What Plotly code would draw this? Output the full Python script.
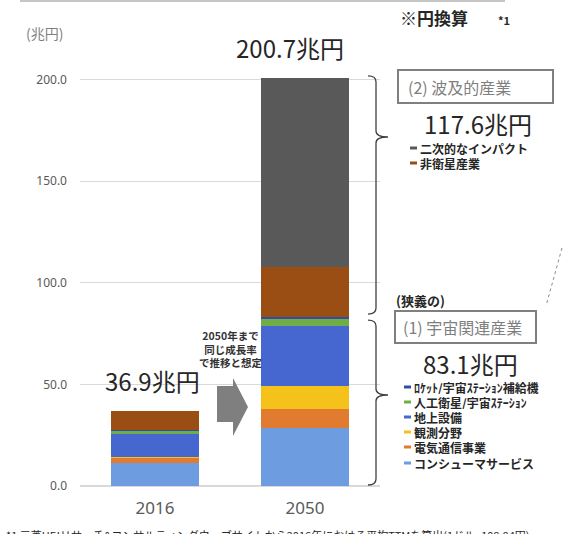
import plotly.graph_objects as go

# ---------------- data ----------------
years = ["2016", "2050"]
series_names = [
    "コンシューマサービス",
    "電気通信事業",
    "観測分野",
    "地上設備",
    "人工衛星/宇宙ｽﾃｰｼｮﾝ",
    "ﾛｹｯﾄ/宇宙ｽﾃｰｼｮﾝ補給機",
    "非衛星産業",
    "二次的なインパクト",
]
consumer = [11.4, 28.4]
telecom = [2.7, 9.3]
observation = [0.1, 11.4]
ground = [11.6, 29.5]
satellites = [1.4, 3.3]
rocket = [0.3, 1.2]
non_satellite = [9.4, 24.5]
secondary = [0.0, 93.1]
totals = [36.9, 200.7]
narrow_total = 83.1
wide_total = 117.6
y_ticks = [0, 50, 100, 150, 200]
y_tick_labels = ["0.0", "50.0", "100.0", "150.0", "200.0"]

colors = ["#6d9de0", "#e07b30", "#f5c21b", "#4767d0", "#70ad47", "#2f4ea8", "#9a4e13", "#595959"]
values = [consumer, telecom, observation, ground, satellites, rocket, non_satellite, secondary]

# ---------------- layout geometry ----------------
W, H = 563, 534
ML, MR, MT, MB = 80, 183, 59, 48
PW, PH = W - ML - MR, H - MT - MB
YMAX = 210


def px(x):
    return (x - ML) / PW


def py(y):
    return (H - MB - y) / PH


def vy(v):
    return v / YMAX


fig = go.Figure()
for name, vals, col in zip(series_names, values, colors):
    fig.add_trace(go.Bar(x=years, y=vals, name=name, marker=dict(color=col, line=dict(width=0)),
                         width=0.59, showlegend=False))

JP = "Noto Sans CJK JP"
NUM = "Liberation Sans Narrow, Arial Narrow, Noto Sans CJK JP"
shapes = []
ann = []


def text(x, y, s, size, color="#262626", family=JP, xanchor="left", yanchor="middle", align="left", height=None):
    d = dict(x=x, y=y, xref="paper", yref="paper", xanchor=xanchor, yanchor=yanchor,
             showarrow=False, text=s, align=align, font=dict(family=family, size=size, color=color))
    if height:
        d["height"] = height
    ann.append(d)


# total labels (category index positions on the x axis)
for i, (tot, xs) in enumerate(zip(totals, [-3, -15])):
    ann.append(dict(x=i, y=tot, xref="x", yref="y", xanchor="center", yanchor="bottom", yshift=11, xshift=xs,
                    text=f"{tot}兆円", showarrow=False, font=dict(family=NUM, size=24, color="#262626")))


# braces
def brace(y_top, y_bot, y_tip):
    xl, xv, xt, r = px(368), px(376), px(388), 6 / PH
    return (f"M {xl},{y_top} Q {xv},{y_top} {xv},{y_top - r} L {xv},{y_tip + r} "
            f"Q {xv},{y_tip} {xt},{y_tip} Q {xv},{y_tip} {xv},{y_tip - r} "
            f"L {xv},{y_bot + r} Q {xv},{y_bot} {xl},{y_bot}")


shapes.append(dict(type="path", xref="paper", yref="paper",
                   path=brace(vy(totals[1]) + 2 / PH, vy(narrow_total) + 3 / PH, py(137)),
                   line=dict(color="#404040", width=1.3)))
shapes.append(dict(type="path", xref="paper", yref="paper",
                   path=brace(vy(narrow_total) - 3 / PH, vy(0) + 1 / PH, py(395)),
                   line=dict(color="#404040", width=1.3)))

# arrow
pts = [(217, 386), (233, 386), (233, 378), (248, 407), (233, 436), (233, 422), (217, 422)]
path = "M " + " L ".join(f"{px(a)},{py(b)}" for a, b in pts) + " Z"
shapes.append(dict(type="path", xref="paper", yref="paper", path=path, fillcolor="#7f7f7f", line=dict(width=0)))
text(px(231), py(349), "<b>2050年まで<br>同じ成長率<br>で推移と想定</b>", 10.5, "#333333", xanchor="center", align="center")

# boxes
shapes.append(dict(type="rect", xref="paper", yref="paper", x0=px(398), x1=px(553), y0=py(70), y1=py(103),
                   line=dict(color="#7f7f7f", width=2)))
text(px(406), py(87), "(2) 波及的産業", 16, "#7f7f7f")
text(px(478), py(123), f"{wide_total}兆円", 24, family=NUM, xanchor="center")

text(px(394), py(300), "<b>(狭義の)</b>", 13)
shapes.append(dict(type="rect", xref="paper", yref="paper", x0=px(395), x1=px(536), y0=py(311), y1=py(343),
                   line=dict(color="#7f7f7f", width=2)))
text(px(401), py(327), "(1) 宇宙関連産業", 16, "#7f7f7f")
text(px(471), py(363), f"{narrow_total}兆円", 24, family=NUM, xanchor="center")


# legends
def legend_item(idx, xm, yc):
    shapes.append(dict(type="rect", xref="paper", yref="paper", x0=px(xm), x1=px(xm + 7),
                       y0=py(yc + 1.5), y1=py(yc - 1.5), fillcolor=colors[idx], line=dict(width=0)))
    text(px(xm + 8), py(yc), f"<b>{series_names[idx]}</b>", 12, height=14)


legend_item(7, 410, 148)
legend_item(6, 410, 163)
for idx, yc in zip([5, 4, 3, 2, 1, 0], [387, 402, 417, 432, 447, 463]):
    legend_item(idx, 404, yc)

# titles / notes
text(px(24), py(33), "(兆円)", 14, "#7f7f7f")
text(px(398), py(18), "<b>※円換算</b>", 17)
text(px(496), py(20), "<b>*1</b>", 11)
text(px(4), py(535), "*1 三菱UFJリサーチ&コンサルティングウェブサイトから2016年における平均TTMを算出(1ドル=108.84円)", 11)

# top line and dotted leader
shapes.append(dict(type="line", xref="paper", yref="paper", x0=px(20), x1=px(505), y0=py(1), y1=py(1),
                   line=dict(color="#8c8c8c", width=1)))
shapes.append(dict(type="line", xref="paper", yref="paper", x0=px(562), x1=px(546), y0=py(248), y1=py(306),
                   line=dict(color="#8c8c8c", width=1, dash="dot")))

fig.update_layout(
    width=W, height=H, margin=dict(l=ML, r=MR, t=MT, b=MB),
    barmode="stack", plot_bgcolor="white", paper_bgcolor="white",
    shapes=shapes, annotations=ann, showlegend=False,
    xaxis=dict(type="category", range=[-0.5, 1.5], showgrid=False, showline=False, ticks="",
               tickfont=dict(family="Noto Sans", size=17, color="#595959"), ticklabelstandoff=10),
    yaxis=dict(range=[0, YMAX], tickvals=y_ticks, ticktext=y_tick_labels, showgrid=True,
               gridcolor="#d9d9d9", gridwidth=1, zeroline=True, zerolinecolor="#d9d9d9", showline=False,
               tickfont=dict(family="Noto Sans", size=12, color="#595959"), ticklabelstandoff=12),
)

fig.write_html("out.html")
